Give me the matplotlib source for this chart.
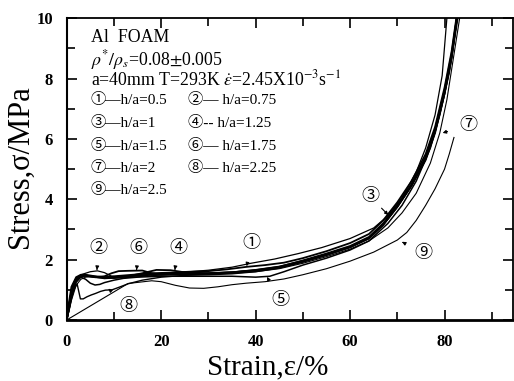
import matplotlib
matplotlib.use("Agg")
import matplotlib.pyplot as plt
from matplotlib.ticker import MultipleLocator

plt.rcParams['mathtext.fontset'] = 'stix'
SERIF = ['Liberation Serif', 'Noto Sans CJK JP', 'DejaVu Sans']

# ---- data (strain %, stress MPa) ----
s1 = [0, 0.5, 1, 2, 3, 4, 6, 8, 10, 14, 18, 22, 26, 30, 34, 38, 42, 46, 50, 55, 60, 64, 67, 70, 73, 76, 78, 80, 81.5, 82.5]
t1 = [0, 0.6, 1.1, 1.42, 1.5, 1.5, 1.45, 1.42, 1.45, 1.5, 1.55, 1.57, 1.6, 1.62, 1.68, 1.76, 1.82, 1.9, 2.05, 2.28, 2.55, 2.85, 3.3, 3.9, 4.6, 5.5, 6.4, 7.7, 8.9, 10.0]

s2 = [0, 0.5, 1, 2, 3, 4, 5, 6.5, 8, 9.5, 11, 14, 18, 22, 26, 30, 35, 39, 44, 49, 54, 60, 65, 68, 71, 74, 76, 78, 79.5, 80.5]
t2 = [0, 0.5, 1.0, 1.38, 1.5, 1.55, 1.6, 1.63, 1.57, 1.45, 1.42, 1.46, 1.52, 1.56, 1.6, 1.65, 1.75, 1.88, 2.02, 2.2, 2.4, 2.7, 3.05, 3.45, 4.05, 4.9, 5.7, 6.8, 8.1, 10.0]

s3 = [0, 0.5, 1, 1.5, 2, 2.5, 3, 4, 5, 6, 8, 10, 12, 15, 18, 20, 25, 30, 35, 40, 45, 50, 55, 60, 64, 67, 70, 73, 76, 78, 80, 81.5, 82.6]
t3 = [0, 0.45, 0.9, 1.2, 1.35, 1.43, 1.47, 1.48, 1.45, 1.42, 1.4, 1.42, 1.44, 1.47, 1.5, 1.52, 1.53, 1.55, 1.58, 1.65, 1.76, 1.97, 2.2, 2.45, 2.75, 3.2, 3.8, 4.5, 5.4, 6.3, 7.6, 8.8, 10.0]

s4 = [0, 0.5, 1, 2, 3, 4, 6, 8, 10, 13, 16, 19, 22, 25, 30, 35, 40, 45, 50, 55, 60, 64, 67, 70, 73, 76, 78, 80, 81.5, 82.6]
t4 = [0, 0.4, 0.85, 1.3, 1.45, 1.47, 1.43, 1.38, 1.4, 1.45, 1.55, 1.66, 1.65, 1.58, 1.55, 1.58, 1.66, 1.77, 1.96, 2.18, 2.42, 2.7, 3.15, 3.75, 4.45, 5.35, 6.25, 7.5, 8.7, 10.0]

s5 = [0, 0.5, 1, 2, 3, 4, 5, 6, 7, 8, 10, 12, 15, 20, 25, 30, 35, 40, 43, 46, 50, 55, 60, 64, 68, 71, 74, 77, 79, 81, 82.8]
t5 = [0, 0.35, 0.75, 1.25, 1.42, 1.35, 1.22, 1.16, 1.18, 1.24, 1.32, 1.38, 1.42, 1.45, 1.45, 1.45, 1.45, 1.42, 1.45, 1.6, 1.82, 2.05, 2.32, 2.62, 3.2, 3.8, 4.6, 5.7, 6.8, 8.2, 10.0]

s6 = [0, 0.5, 1, 2, 3, 4, 6, 8, 9.5, 11, 13, 16, 18, 20, 25, 30, 35, 40, 45, 50, 55, 60, 64, 67, 70, 73, 76, 78, 80, 81.5, 82.6]
t6 = [0, 0.5, 0.95, 1.35, 1.45, 1.46, 1.42, 1.45, 1.55, 1.62, 1.63, 1.64, 1.55, 1.5, 1.52, 1.54, 1.58, 1.64, 1.74, 1.93, 2.15, 2.42, 2.72, 3.15, 3.75, 4.45, 5.3, 6.2, 7.5, 8.7, 10.0]

s7 = [0, 0.5, 1, 2, 3, 4, 6, 8, 10, 14, 18, 22, 26, 30, 35, 40, 45, 50, 55, 60, 64, 68, 71, 74, 77, 79, 80.5, 81.8, 83.2]
t7 = [0, 0.3, 0.65, 1.15, 1.35, 1.42, 1.45, 1.4, 1.38, 1.42, 1.47, 1.5, 1.5, 1.52, 1.55, 1.6, 1.7, 1.88, 2.1, 2.35, 2.62, 3.05, 3.55, 4.2, 5.2, 6.2, 7.3, 8.6, 10.0]

s8 = [0, 0.5, 1, 1.5, 2.2, 2.9, 3.5, 4.3, 5.2, 6.1, 7.2, 8.2, 9.6, 11, 13, 16, 20, 25, 30, 35, 40, 45, 50, 55, 60, 64, 67, 70, 73, 76, 78, 80, 81.5, 82.7]
t8 = [0, 0.35, 0.7, 1.0, 1.2, 0.7, 0.7, 0.77, 0.83, 0.88, 0.95, 0.99, 1.0, 1.08, 1.2, 1.32, 1.42, 1.48, 1.5, 1.53, 1.6, 1.72, 1.92, 2.15, 2.4, 2.7, 3.15, 3.75, 4.45, 5.35, 6.25, 7.55, 8.75, 10.0]

s9 = [0, 13, 18, 20, 23, 26, 29, 32, 35, 38, 42, 46, 50, 55, 60, 65, 70, 72, 74, 76, 78, 80, 81, 82]
t9 = [0, 1.21, 1.3, 1.27, 1.15, 1.06, 1.05, 1.1, 1.17, 1.22, 1.27, 1.36, 1.5, 1.7, 1.95, 2.25, 2.65, 2.9, 3.3, 3.8, 4.35, 5.0, 5.5, 6.05]

curve_ids = ['1', '2', '3', '4', '5', '6', '7', '8', '9']
circled = ['\u2460', '\u2461', '\u2462', '\u2463', '\u2464', '\u2465', '\u2466', '\u2467', '\u2468']
ha_values = ['0.5', '0.75', '1', '1.25', '1.5', '1.75', '2', '2.25', '2.5']

x_ticks = [0, 20, 40, 60, 80]
y_ticks = [0, 2, 4, 6, 8, 10]

strains = [s1, s2, s3, s4, s5, s6, s7, s8, s9]
stresses = [t1, t2, t3, t4, t5, t6, t7, t8, t9]
widths = [1.3, 0.9, 1.4, 1.3, 1.1, 1.3, 0.8, 1.0, 0.8]

fig = plt.figure(figsize=(5.14, 3.81), dpi=100)
W, H = 514, 381
L, R, B, T = 66.7, 513.0, 320.0, 18.3
ax = fig.add_axes([L / W, 1 - B / H, (R - L) / W, (B - T) / H])

for s, t, lw in zip(strains, stresses, widths):
    ax.plot(s, t, color='black', lw=lw, solid_joinstyle='round')

ax.set_xlim(0, 94.5)
ax.set_ylim(0, 10)
ax.set_xticks(x_ticks)
ax.set_yticks(y_ticks)
ax.xaxis.set_minor_locator(MultipleLocator(10))
ax.yaxis.set_minor_locator(MultipleLocator(1))
ax.tick_params(which='both', direction='in', top=True, right=True, color='black')
ax.tick_params(which='major', length=7, width=1.2, pad=10)
ax.tick_params(which='minor', length=6, width=1.2)
for lab in ax.get_xticklabels() + ax.get_yticklabels():
    lab.set_fontfamily('Liberation Serif')
    lab.set_fontweight('bold')
    lab.set_fontsize(12)
for side, lw in (('bottom', 2.0), ('left', 1.5), ('top', 1.3), ('right', 1.3)):
    ax.spines[side].set_linewidth(lw)

ax.set_xlabel('Strain,\u03b5/%', family='Liberation Serif', fontsize=21)
ax.set_ylabel('Stress,\u03c3/MPa', family='Liberation Serif', fontsize=22)
ax.xaxis.set_label_coords(0.451, -0.115)
ax.yaxis.set_label_coords(-0.072, 0.51)

# info block
fs = 12.8
x1, x2 = 0.054, 0.272
ax.text(x1, 0.935, 'Al  FOAM', transform=ax.transAxes, family=SERIF, fontsize=fs, va='center')
ax.text(x1, 0.862, r'$\rho^{*}/\rho_{s}$=0.08$\pm$0.005', transform=ax.transAxes, family=SERIF, fontsize=fs, va='center')
ax.text(x1, 0.795, r'a=40mm T=293K $\dot{\varepsilon}$=2.45X10$^{-3}$s$^{-1}$', transform=ax.transAxes, family=SERIF, fontsize=fs, va='center')
rows = [0.729, 0.653, 0.577, 0.504, 0.431]
for i, (c, hv) in enumerate(zip(circled, ha_values)):
    col, row = i % 2, i // 2
    dash = '\u2014' if col == 0 else ('\u2014 ' if i != 3 else '-- ')
    ax.text(x1 if col == 0 else x2, rows[row], c + dash + 'h/a=' + hv,
            transform=ax.transAxes, family=SERIF, fontsize=11, va='center')

# circled labels with arrows on the curves: (label pos, arrow tip)
ann = {
    '1': ((39.2, 2.55), (38.1, 1.78)),
    '2': ((6.8, 2.38), (6.4, 1.66)),
    '3': ((64.3, 4.08), (68.1, 3.48)),
    '4': ((23.6, 2.38), (22.9, 1.66)),
    '5': ((45.2, 0.66), (42.4, 1.43)),
    '6': ((15.2, 2.38), (14.8, 1.66)),
    '7': ((85.1, 6.46), (79.6, 6.2)),
    '8': ((13.1, 0.44), (8.8, 1.04)),
    '9': ((75.6, 2.2), (71.0, 2.59)),
}
for cid, c in zip(curve_ids, circled):
    (tx, ty), (px, py) = ann[cid]
    ax.annotate(c, xy=(px, py), xytext=(tx, ty), family=SERIF, fontsize=13,
                ha='center', va='center',
                arrowprops=dict(arrowstyle='-|>', color='black', lw=0.8,
                                mutation_scale=5, shrinkA=7, shrinkB=0))

fig.savefig('out.png', dpi=100)
